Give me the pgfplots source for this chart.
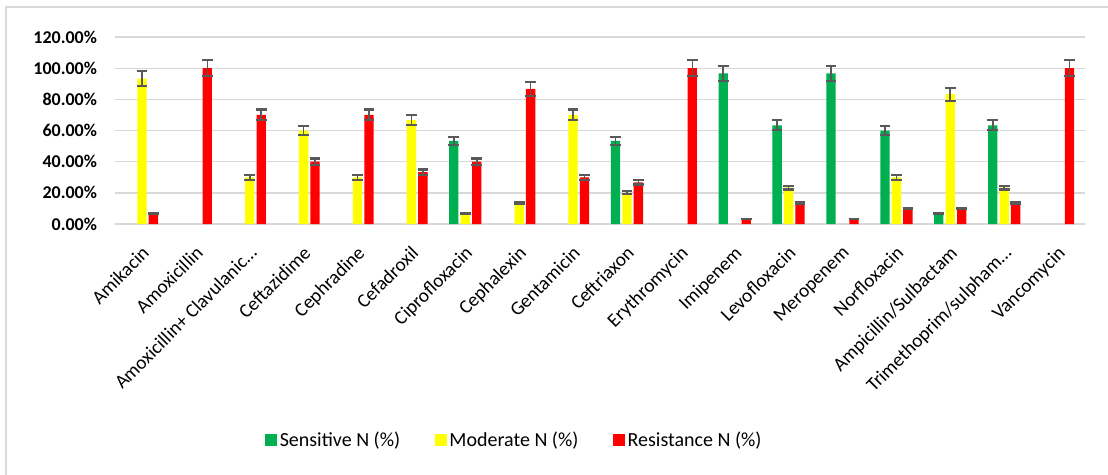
\documentclass[border=0pt]{standalone}
\usepackage{fontspec}
\setmainfont{Carlito}
\usepackage{pgfplots}
\pgfplotsset{compat=1.18}

\definecolor{sgreen}{HTML}{00B050}
\definecolor{myellow}{HTML}{FFFF00}
\definecolor{rred}{HTML}{FF0000}
\definecolor{errgray}{HTML}{595959}
\definecolor{gridgray}{HTML}{D9D9D9}

\begin{document}
\begin{tikzpicture}
% canvas 1108 x 475 px at 0.75pt per px
\useasboundingbox (0,0) rectangle (831pt,356.25pt);
\draw[gridgray, line width=1.5pt] (4.5pt,0) -- (4.5pt,351pt) -- (831pt,351pt);

\begin{axis}[
    at={(86.25pt,188.25pt)}, anchor=south west,
    scale only axis, width=727.5pt, height=140.25pt,
    ybar=1.6pt, bar width=7pt,
    xmin=-0.5, xmax=17.5, ymin=0, ymax=120,
    xtick={0,...,17},
    xticklabels={Amikacin, Amoxicillin, Amoxicillin+ Clavulanic…, Ceftazidime,
        Cephradine, Cefadroxil, Ciprofloxacin, Cephalexin, Gentamicin, Ceftriaxon,
        Erythromycin, Imipenem, Levofloxacin, Meropenem, Norfloxacin,
        Ampicillin/Sulbactam, Trimethoprim/sulpham…, Vancomycin},
    ytick={0,20,...,120},
    yticklabels={0.00\%,20.00\%,40.00\%,60.00\%,80.00\%,100.00\%,120.00\%},
    major tick length=0pt,
    axis line style={draw=none},
    ymajorgrids, grid style={gridgray, line width=1pt},
    every y tick label/.append style={font=\fontsize{13.5}{16}\selectfont\bfseries, xshift=-10pt},
    every x tick label/.append style={font=\fontsize{14.5}{17}\selectfont,
        xshift=-1pt, yshift=-14pt, rotate=45, anchor=north east, inner sep=1pt},
    error bars/y dir=both,
    error bars/y fixed relative=0.05,
    error bars/error bar style={draw=errgray, line width=1.2pt},
    error bars/error mark options={draw=errgray, rotate=90, mark size=4pt, line width=1.6pt},
    legend style={at={(0.412,-1.155)}, anchor=center, draw=none, fill=none,
        legend columns=3, font=\fontsize{15}{18}\selectfont,
        /tikz/every even column/.append style={column sep=24pt}},
    legend image code/.code={\fill[#1] (0pt,-4.5pt) rectangle (9pt,4.5pt);},
]
% Sensitive
\addplot[fill=sgreen, draw=none] coordinates {
    (6,53.3) (9,53.3) (11,96.7) (12,63.3) (13,96.7) (14,60) (15,6.7) (16,63.3)};
% Moderate
\addplot[fill=myellow, draw=none] coordinates {
    (0,93.3) (2,30) (3,60) (4,30) (5,66.7) (6,6.7) (7,13.3) (8,70) (9,20)
    (12,23.3) (14,30) (15,83.3) (16,23.3)};
% Resistance
\addplot[fill=rred, draw=none] coordinates {
    (0,6.7) (1,100) (2,70) (3,40) (4,70) (5,33.3) (6,40) (7,86.7) (8,30) (9,26.7)
    (10,100) (11,3.3) (12,13.3) (13,3.3) (14,10) (15,10) (16,13.3) (17,100)};
\legend{Sensitive N (\%), Moderate N (\%), Resistance N (\%)}
\end{axis}
\end{tikzpicture}
\end{document}
